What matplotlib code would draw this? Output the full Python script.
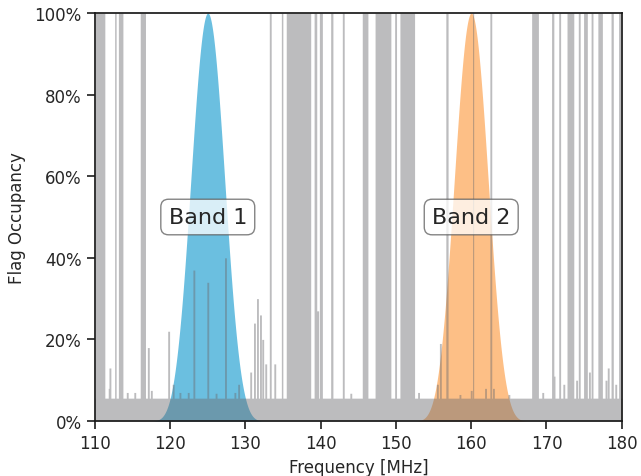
import numpy as np
import matplotlib
matplotlib.use("Agg")
import matplotlib.pyplot as plt
from matplotlib.ticker import PercentFormatter

# ---------------- data ----------------
freq_min, freq_max, chan_width = 110.0, 180.0, 0.05
baseline_occupancy = 5.6  # percent

# fully flagged frequency ranges (MHz)
full_flag_start = [110.1, 112.6, 113.1, 116.0, 133.15, 134.75, 135.4, 139.1, 139.8,
                   141.3, 142.85, 145.5, 147.2, 149.8, 150.5, 156.6, 160.15, 162.45,
                   168.0, 170.65, 171.6, 172.7, 174.2, 174.9, 175.9, 176.8, 178.55, 179.55]
full_flag_end = [111.3, 112.8, 113.7, 116.7, 133.4, 134.95, 138.65, 139.45, 140.2,
                 141.6, 143.1, 146.25, 149.3, 150.05, 152.45, 156.9, 160.3, 162.7,
                 168.9, 170.95, 171.85, 173.6, 174.45, 175.4, 176.15, 177.4, 178.85, 179.85]

# partially flagged channels: frequency (MHz) and occupancy (%)
spike_freq = [111.9, 112.0, 114.3, 115.3, 117.1, 117.5, 119.8, 120.4, 121.3, 122.4,
              123.15, 125.0, 126.1, 127.35, 128.6, 129.1, 130.7, 131.2, 131.6, 132.0,
              132.3, 132.7, 133.9, 139.6, 144.0, 153.0, 155.5, 155.9, 158.5, 160.0,
              161.9, 162.95, 165.0, 169.5, 171.0, 172.3, 174.0, 175.7, 177.9, 178.2, 179.2]
spike_height = [8, 13, 7, 7, 18, 7.5, 22, 9, 7, 7,
                37, 34, 6.8, 40, 7, 9, 12, 24, 30, 26,
                20, 14, 14, 27, 6.8, 7, 9, 19, 6.5, 7.5,
                8, 8, 6.5, 7, 11, 9, 10, 12, 10, 13, 9]

# bands
band_names = ["Band 1", "Band 2"]
band_centers = [125.0, 160.0]
band_widths = [15.0, 15.0]
band_colors = ["#6bbfe0", "#fdbf86"]

# ---------------- build occupancy per channel ----------------
freq = np.arange(freq_min, freq_max + chan_width / 2, chan_width)
occ = np.full_like(freq, baseline_occupancy)
for s, e in zip(full_flag_start, full_flag_end):
    occ[(freq >= s) & (freq <= e)] = 100.0
for f, h in zip(spike_freq, spike_height):
    m = np.abs(freq - f) <= 0.11
    occ[m] = np.maximum(occ[m], h)

def blackman_harris(n):
    x = np.linspace(0, 1, n)
    a = [0.35875, 0.48829, 0.14128, 0.01168]
    return (a[0] - a[1] * np.cos(2 * np.pi * x) + a[2] * np.cos(4 * np.pi * x)
            - a[3] * np.cos(6 * np.pi * x))

# ---------------- plot ----------------
plt.rcParams['font.family'] = ['DejaVu Sans']
fig = plt.figure(figsize=(6.41, 4.77), dpi=100)
ax = fig.add_axes([0.148, 0.1153, 0.822, 0.8553])

text_color = "#262626"
for name, c, w, col in zip(band_names, band_centers, band_widths, band_colors):
    fb = np.linspace(c - w / 2, c + w / 2, 400)
    prof = blackman_harris(len(fb)) * 100
    ax.fill_between(fb, prof, color=col, lw=0, zorder=1)
    ax.text(c, 50, name, fontsize=16, color=text_color, ha="center", va="center", zorder=5,
            bbox=dict(boxstyle="round,pad=0.35", fc="white", ec="#5a5a5a", lw=1.0, alpha=0.75))

ax.fill_between(freq, occ, step="mid", color="#6c6c70", alpha=0.45, lw=0, zorder=2)

ax.set_xlim(freq_min, freq_max)
ax.set_ylim(0, 100)
ax.set_xticks(np.arange(110, 181, 10))
ax.set_yticks(np.arange(0, 101, 20))
ax.yaxis.set_major_formatter(PercentFormatter(decimals=0))
ax.set_xlabel("Frequency [MHz]", fontsize=12, color=text_color)
ax.set_ylabel("Flag Occupancy", fontsize=12, color=text_color, labelpad=6)
ax.tick_params(labelsize=12, colors=text_color, length=6, width=1.25)
for sp in ax.spines.values():
    sp.set_linewidth(1.25)
    sp.set_color("#1a1a1a")
    sp.set_zorder(6)

fig.savefig("out.png", dpi=100)
